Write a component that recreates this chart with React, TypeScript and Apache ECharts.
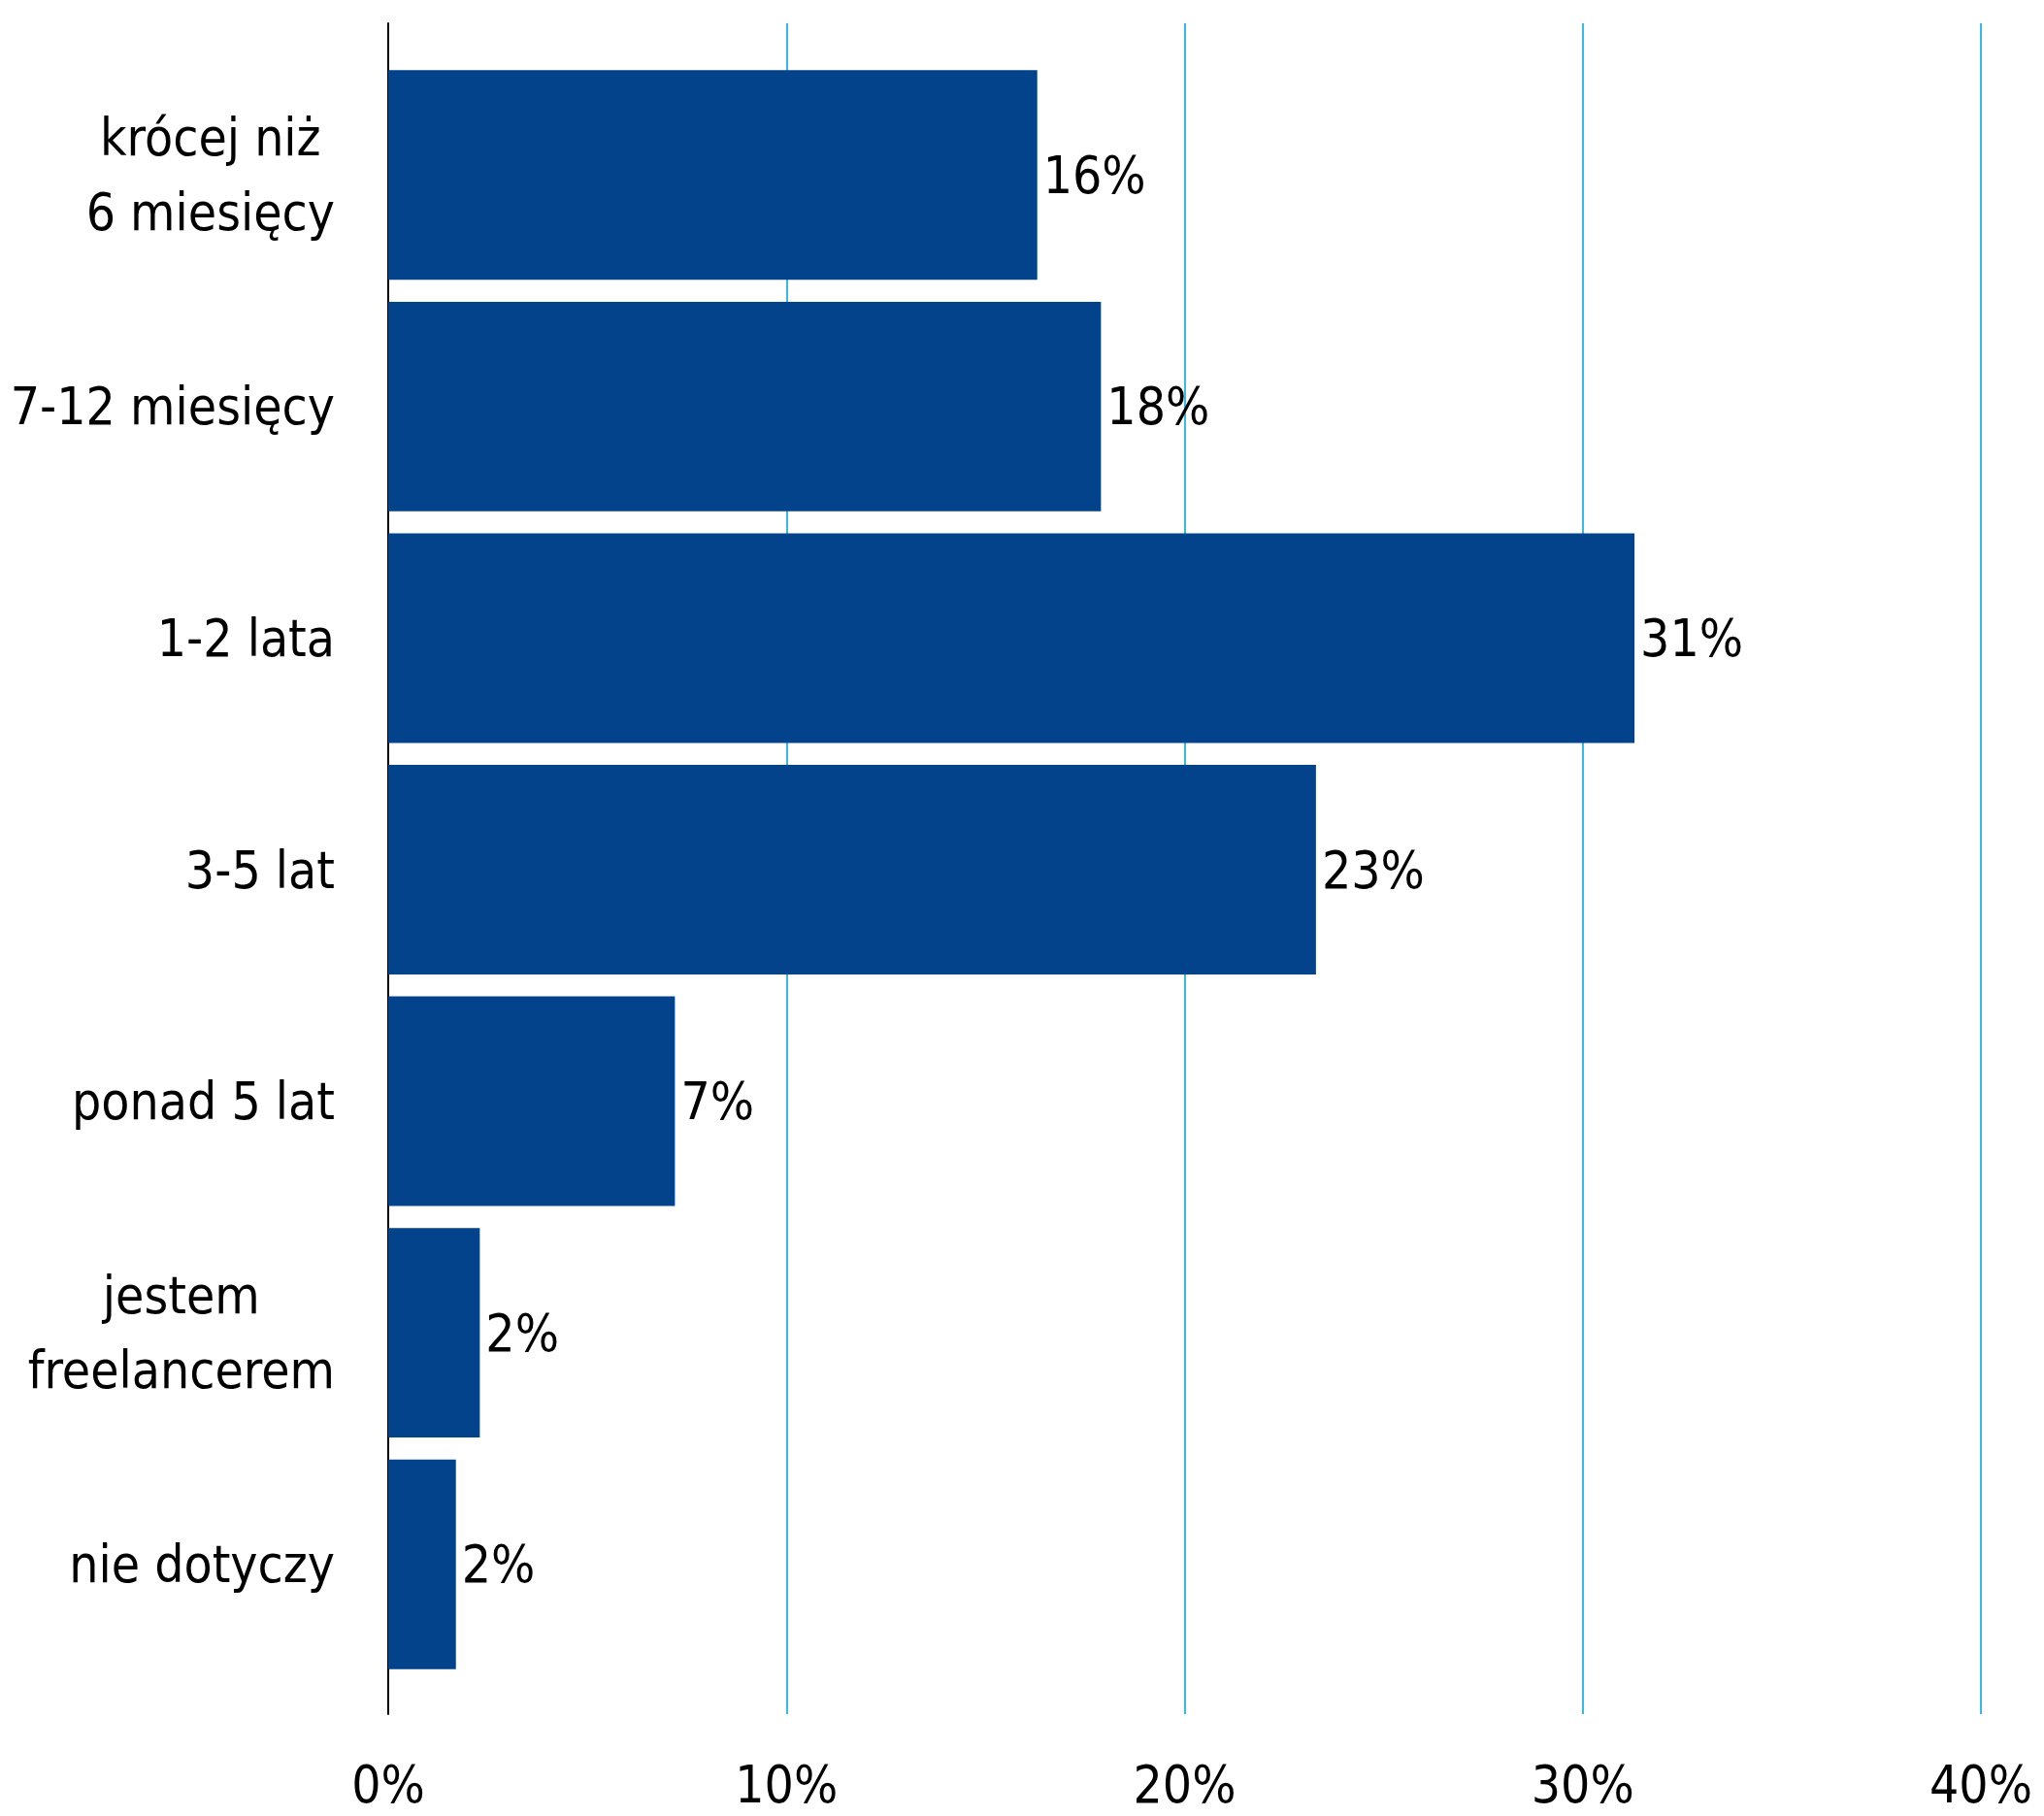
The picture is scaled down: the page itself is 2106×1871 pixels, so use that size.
import React, { useEffect, useRef } from "react";
import * as echarts from "echarts";

const categories = [
  "krócej niż\n6 miesięcy",
  "7-12 miesięcy",
  "1-2 lata",
  "3-5 lat",
  "ponad 5 lat",
  "jestem\nfreelancerem",
  "nie dotyczy",
];
const values = [16.3, 17.9, 31.3, 23.3, 7.2, 2.3, 1.7];
const valueLabels = ["16%", "18%", "31%", "23%", "7%", "2%", "2%"];
const xTicks = [0, 10, 20, 30, 40];

const FONT = "'DejaVu Sans Condensed', 'Liberation Sans Narrow', 'Roboto', sans-serif";
const FS = 53;
const BAR = "#03438b";
const GRIDLINE = "#37b9ea";

export default function App() {
  const ref = useRef<HTMLDivElement>(null);
  useEffect(() => {
    document.body.style.margin = "0";
    if (!ref.current) return;
    const chart = echarts.init(ref.current, undefined, { renderer: "svg" });
    const option: any = {
      animation: false,
      backgroundColor: "#ffffff",
      grid: [
        { left: 400, right: 65, top: 24, bottom: 105, containLabel: false, outerBoundsMode: "none" },
        { left: 400, right: 65, top: 61, bottom: 140, containLabel: false, outerBoundsMode: "none" },
      ],
      xAxis: [
        {
          gridIndex: 0,
          type: "value",
          min: 0,
          max: 40,
          interval: 10,
          axisLine: { show: false },
          axisTick: { show: false },
          splitLine: {
            show: true,
            lineStyle: { color: GRIDLINE, width: 2 },
            showMinLine: false,
          },
          axisLabel: {
            show: true,
            margin: 46,
            fontFamily: FONT,
            fontSize: FS,
            lineHeight: FS,
            color: "#000",
            formatter: (v: number) => (xTicks.includes(v) ? v + "%" : ""),
          },
        },
        {
          gridIndex: 1,
          type: "value",
          min: 0,
          max: 40,
          interval: 10,
          show: false,
        },
      ],
      yAxis: [
        {
          gridIndex: 0,
          type: "value",
          min: 0,
          max: 1,
          axisLine: { show: true, lineStyle: { color: "#000", width: 2 } },
          axisTick: { show: false },
          axisLabel: { show: false },
          splitLine: { show: false },
        },
        {
          gridIndex: 1,
          type: "category",
          inverse: true,
          data: categories,
          axisLine: { show: false },
          axisTick: { show: false },
          splitLine: { show: false },
          axisLabel: {
            margin: 55,
            fontFamily: FONT,
            fontSize: FS,
            color: "#000",
            lineHeight: 77,
            formatter: (v: string) =>
              v
                .split("\n")
                .map((l) => "{c|" + l + "}")
                .join("\n"),
            rich: {
              c: {
                align: "center",
                fontFamily: FONT,
                fontSize: FS,
                lineHeight: 77,
                color: "#000",
              },
            },
          },
        },
      ],
      series: [
        {
          type: "bar",
          xAxisIndex: 1,
          yAxisIndex: 1,
          data: values,
          barCategoryGap: "9.5%",
          itemStyle: { color: BAR },
          label: {
            show: true,
            position: "right",
            distance: 6,
            fontFamily: FONT,
            fontSize: FS,
            color: "#000",
            formatter: (p: any) => valueLabels[p.dataIndex],
          },
          z: 3,
        },
      ],
    };
    chart.setOption(option);
    return () => chart.dispose();
  }, []);
  return <div ref={ref} style={{ width: 2106, height: 1871 }} />;
}
